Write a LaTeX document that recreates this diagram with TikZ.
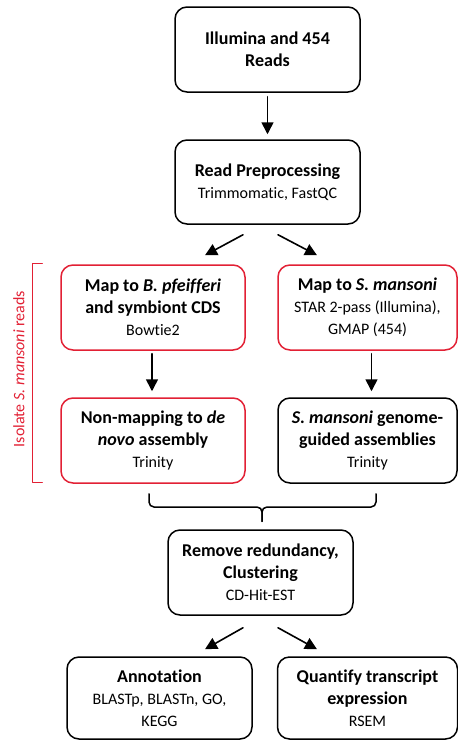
\documentclass[tikz,border=0pt]{standalone}
\usepackage{fontspec}
\setmainfont{Carlito}[Ligatures=NoCommon]
\usetikzlibrary{arrows.meta,calc}
\definecolor{isored}{RGB}{226,32,52}
\newcommand{\toolname}[1]{{\fontsize{16}{22}\selectfont\mdseries #1}}
\begin{document}
\begin{tikzpicture}[x=1pt,y=-1pt,>={Triangle[length=12pt,width=12pt]},line cap=round,line join=round,
  stepbox/.style={draw,line width=1.5pt,rounded corners=12pt,align=center,minimum height=85pt,
    inner sep=2pt,font=\fontsize{18}{22}\selectfont\bfseries},
  redbox/.style={stepbox,draw=isored},
  arr/.style={->,line width=1.6pt}]
  \useasboundingbox (0,0) rectangle (458,740);
  % boxes
  \node[stepbox,minimum width=185pt] (reads) at (267.5,49.5) {Illumina and 454\\Reads};
  \node[stepbox,minimum width=185pt,minimum height=84pt] (prep) at (267.5,182) {Read Preprocessing\\\toolname{Trimmomatic, FastQC}};
  \node[redbox,minimum width=184pt] (mapB) at (153,307.5) {Map to \textit{B. pfeifferi}\\and symbiont CDS\\\toolname{Bowtie2}};
  \node[redbox,minimum width=179pt] (mapS) at (367.5,307.5) {Map to \textit{S. mansoni}\\\toolname{STAR 2-pass (Illumina),}\\\toolname{GMAP (454)}};
  \node[redbox,minimum width=184pt] (nonmap) at (153,440.5) {Non-mapping to \textit{de}\\\textit{novo} assembly\\\toolname{Trinity}};
  \node[stepbox,minimum width=179pt] (guided) at (367.5,440.5) {\textit{S. mansoni} genome-\\guided assemblies\\\toolname{Trinity}};
  \node[stepbox,minimum width=185pt] (redund) at (260.5,572.5) {Remove redundancy,\\Clustering\\\toolname{CD-Hit-EST}};
  \node[stepbox,minimum width=185pt,minimum height=82pt] (annot) at (159.5,698) {Annotation\\\toolname{BLASTp, BLASTn, GO,}\\\toolname{KEGG}};
  \node[stepbox,minimum width=180pt,minimum height=82pt] (quant) at (367.5,698) {Quantify transcript\\expression\\\toolname{RSEM}};
  % side label
  \node[rotate=90,text=isored,font=\fontsize{16}{18}\selectfont] (isolab) at (19,369) {Isolate \textit{S. mansoni} reads};
  \draw[isored,line width=1.3pt] ($(mapB.north west)+(-18,-1)$) -| ($(nonmap.south west)+(-28,-1)$) -- ++(10,0);
  % arrows
  \draw[arr] ($(reads.south)+(0,4)$) -- ($(prep.north)+(0,-5)$);
  \draw[arr] ($(prep.south)+(-24.5,10)$) -- ($(mapB.north)+(52,-9)$);
  \draw[arr] ($(prep.south)+(10.5,10)$) -- ($(mapS.north)+(-50.5,-9)$);
  \draw[arr] ($(mapB.south)+(-1,3)$) -- ($(nonmap.north)+(-1,-6)$);
  \draw[arr] ($(mapS.south)+(4,3)$) -- ($(guided.north)+(4,-6)$);
  \draw[arr] ($(redund.south)+(-17.5,12)$) -- ($(annot.north)+(45.5,-7)$);
  \draw[arr] ($(redund.south)+(17.5,12)$) -- ($(quant.north)+(-50.5,-7)$);
  % merging brace
  \coordinate (braceL) at ($(nonmap.south)+(-4,10)$);
  \coordinate (braceR) at ($(guided.south)+(8.5,10)$);
  \coordinate (braceM) at ($(redund.north)+(1.5,-8)$);
  \draw[line width=1.5pt,rounded corners=5pt] (braceL) |- (braceM |- 0,507) -- (braceM);
  \draw[line width=1.5pt,rounded corners=5pt] (braceR) |- (braceM |- 0,507) -- (braceM);
\end{tikzpicture}
\end{document}
